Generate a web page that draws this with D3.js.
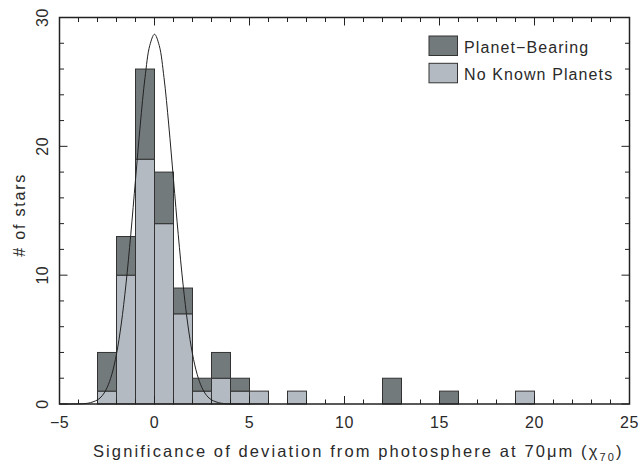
<!DOCTYPE html>
<html>
<head>
<meta charset="utf-8">
<script src="https://cdn.jsdelivr.net/npm/d3@7"></script>
<style>
  html, body { margin: 0; padding: 0; background: #fff; }
  text { font-family: "Liberation Sans", Arial, sans-serif; fill: #2a2a2a; }
</style>
</head>
<body>
<svg id="chart" width="639" height="467"></svg>
<script>
// ---- data ----
const binStart = [-3, -2, -1, 0, 1, 2, 3, 4, 5, 7, 12, 15, 19];
const noKnownPlanets = [1, 10, 19, 14, 7, 1, 2, 1, 1, 1, 0, 0, 1];
const planetBearing = [3, 3, 7, 4, 2, 1, 2, 1, 0, 0, 2, 1, 0];
const binWidth = 1;

const fitX = [-5, -4.5, -4, -3.5, -3, -2.75, -2.5, -2.25, -2, -1.75, -1.5, -1.25, -1, -0.75, -0.5, -0.25, 0,
              0.25, 0.5, 0.75, 1, 1.25, 1.5, 1.75, 2, 2.25, 2.5, 2.75, 3, 3.5, 4, 4.5, 5];
const fitY = [0, 0.001, 0.01, 0.06, 0.32, 0.65, 1.26, 2.28, 3.88, 6.21, 9.32, 13.14, 17.41, 21.66, 25.33, 27.82, 28.7,
              27.82, 25.33, 21.66, 17.41, 13.14, 9.32, 6.21, 3.88, 2.28, 1.26, 0.65, 0.32, 0.06, 0.01, 0.001, 0];

const xMajorTicks = [-5, 0, 5, 10, 15, 20, 25];
const xTickLabels = ["\u22125", "0", "5", "10", "15", "20", "25"];
const yMajorTicks = [0, 10, 20, 30];
const yTickLabels = ["0", "10", "20", "30"];
const legendLabels = ["Planet\u2212Bearing", "No Known Planets"];

const colorDark = "#737a7c";
const colorLight = "#b4bac2";
const ink = "#222";

// ---- layout ----
const svg = d3.select("#chart");
const L = 59.5, R = 629.5, T = 17.5, B = 404;
const x = d3.scaleLinear().domain([-5, 25]).range([L, R]);
const y = d3.scaleLinear().domain([0, 30]).range([B, T]);

// ---- bars ----
const bins = binStart.map((s, i) => ({ s, light: noKnownPlanets[i], dark: planetBearing[i] }));
const gBars = svg.append("g");
gBars.selectAll("rect.light").data(bins.filter(d => d.light > 0)).join("rect")
  .attr("class", "light")
  .attr("x", d => x(d.s)).attr("width", d => x(d.s + binWidth) - x(d.s))
  .attr("y", d => y(d.light)).attr("height", d => y(0) - y(d.light))
  .attr("fill", colorLight).attr("stroke", "#333").attr("stroke-width", 1);
gBars.selectAll("rect.dark").data(bins.filter(d => d.dark > 0)).join("rect")
  .attr("class", "dark")
  .attr("x", d => x(d.s)).attr("width", d => x(d.s + binWidth) - x(d.s))
  .attr("y", d => y(d.light + d.dark)).attr("height", d => y(d.light) - y(d.light + d.dark))
  .attr("fill", colorDark).attr("stroke", "#333").attr("stroke-width", 1);

// ---- fit curve ----
const line = d3.line().x((d, i) => x(fitX[i])).y(d => y(d)).curve(d3.curveCatmullRom.alpha(0.5));
svg.append("path").attr("d", line(fitY)).attr("fill", "none").attr("stroke", ink).attr("stroke-width", 1);

// ---- frame & ticks ----
const gAx = svg.append("g").attr("stroke", ink).attr("fill", "none");
gAx.append("rect").attr("x", L).attr("y", T).attr("width", R - L).attr("height", B - T).attr("stroke-width", 1.5);
const xMinor = d3.range(-5, 26, 1);
xMinor.forEach(v => {
  const len = v % 5 === 0 ? 8 : 4.5;
  gAx.append("line").attr("x1", x(v)).attr("x2", x(v)).attr("y1", B).attr("y2", B - len).attr("stroke-width", 1);
  gAx.append("line").attr("x1", x(v)).attr("x2", x(v)).attr("y1", T).attr("y2", T + len).attr("stroke-width", 1);
});
const yMinor = d3.range(0, 31, 2);
yMinor.forEach(v => {
  const len = v % 10 === 0 ? 8 : 4.5;
  gAx.append("line").attr("y1", y(v)).attr("y2", y(v)).attr("x1", L).attr("x2", L + len).attr("stroke-width", 1);
  gAx.append("line").attr("y1", y(v)).attr("y2", y(v)).attr("x1", R).attr("x2", R - len).attr("stroke-width", 1);
});

// ---- tick labels ----
svg.append("g").selectAll("text").data(xMajorTicks).join("text")
  .attr("x", d => x(d)).attr("y", 428)
  .attr("text-anchor", "middle").attr("font-size", 16).attr("letter-spacing", 0.5)
  .text((d, i) => xTickLabels[i]);
svg.append("g").selectAll("text").data(yMajorTicks).join("text")
  .attr("transform", d => `translate(48,${y(d)}) rotate(-90)`)
  .attr("text-anchor", "middle").attr("font-size", 16).attr("letter-spacing", 0.5)
  .text((d, i) => yTickLabels[i]);

// ---- axis titles ----
const xt = svg.append("text").attr("x", 93).attr("y", 457).attr("font-size", 16.5).attr("letter-spacing", 2.1);
xt.append("tspan").text("Significance of deviation from photosphere at 70\u03bcm (\u03c7");
xt.append("tspan").attr("font-size", 11).attr("dy", 4).text("70");
xt.append("tspan").attr("dy", -4).text(")");

svg.append("text").attr("transform", `translate(25,${(T + B) / 2 + 4}) rotate(-90)`)
  .attr("text-anchor", "middle").attr("font-size", 16).attr("letter-spacing", 1.8)
  .text("# of stars");

// ---- legend ----
const legend = svg.append("g");
[colorDark, colorLight].forEach((c, i) => {
  legend.append("rect").attr("x", 429).attr("y", 36 + i * 27.3).attr("width", 28.5).attr("height", 19.5)
    .attr("fill", c).attr("stroke", "#333").attr("stroke-width", 1);
  legend.append("text").attr("x", 464).attr("y", 52.5 + i * 27)
    .attr("font-size", 16).attr("letter-spacing", 1.1)
    .text(legendLabels[i]);
});
</script>
</body>
</html>
